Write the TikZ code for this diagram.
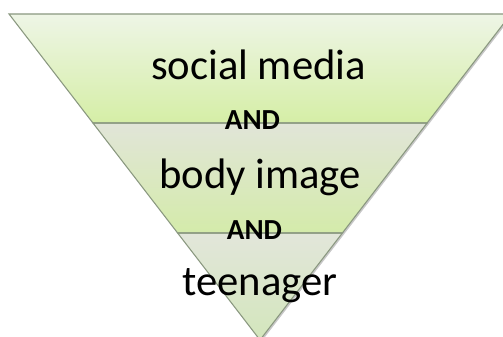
\documentclass[tikz,border=0pt]{standalone}
\usepackage{fontspec}
\setmainfont{Carlito}
\usetikzlibrary{calc}

\definecolor{edge}{HTML}{8A9880}
\definecolor{bandAtop}{HTML}{EEF5E6}
\definecolor{bandAbot}{HTML}{D5EEA6}
\definecolor{bandBtop}{HTML}{E1E5D8}
\definecolor{bandBbot}{HTML}{D4EBAA}
\definecolor{bandCtop}{HTML}{E2E6DA}
\definecolor{bandCbot}{HTML}{D3E6BC}

\tikzset{
  band/.style={draw=edge, line width=0.8pt, line join=miter},
  bandshadow/.style={fill=black, opacity=0.22},
  term/.style={anchor=base, inner sep=0pt, font=\fontsize{32}{38}\selectfont},
  joiner/.style={anchor=base, inner sep=0pt, font=\fontsize{21.8}{25}\selectfont\bfseries},
}

\begin{document}
\begin{tikzpicture}[x=0.75pt, y=0.75pt]
  \useasboundingbox (0,0) rectangle (503,336);
  \clip (0,0) rectangle (503,336);

  % corners of the inverted pyramid and the two cut lines
  \coordinate (tl) at (9,322);
  \coordinate (tr) at (511,322);
  \coordinate (ap) at (260,-4);
  \coordinate (l1) at ($(tl)!0.3344!(ap)$);
  \coordinate (r1) at ($(tr)!0.3344!(ap)$);
  \coordinate (l2) at ($(tl)!0.6718!(ap)$);
  \coordinate (r2) at ($(tr)!0.6718!(ap)$);

  % soft drop shadow behind the whole pyramid
  \fill[bandshadow] ([shift={(1.5,-1.5)}]tl) -- ([shift={(1.5,-1.5)}]tr)
                    -- ([shift={(1.5,-1.5)}]ap) -- cycle;

  % three bands, each with its own vertical gradient
  \shade[top color=bandAtop, bottom color=bandAbot] (tl) -- (tr) -- (r1) -- (l1) -- cycle;
  \shade[top color=bandBtop, bottom color=bandBbot] (l1) -- (r1) -- (r2) -- (l2) -- cycle;
  \shade[top color=bandCtop, bottom color=bandCbot] (l2) -- (r2) -- (ap) -- cycle;
  \draw[band] (tl) -- (tr) -- (r1) -- (l1) -- cycle;
  \draw[band] (l1) -- (r1) -- (r2) -- (l2) -- cycle;
  \draw[band] (l2) -- (r2) -- (ap) -- cycle;

  % labels
  \node[term]   (social) at (258.5,256) {social media};
  \node[joiner] (and1)   at (252.5,206) {AND};
  \node[term]   (body)   at (260,147)   {body image};
  \node[joiner] (and2)   at (254.5,97)  {AND};
  \node[term]   (teen)   at (260,41)    {teenager};
\end{tikzpicture}
\end{document}
